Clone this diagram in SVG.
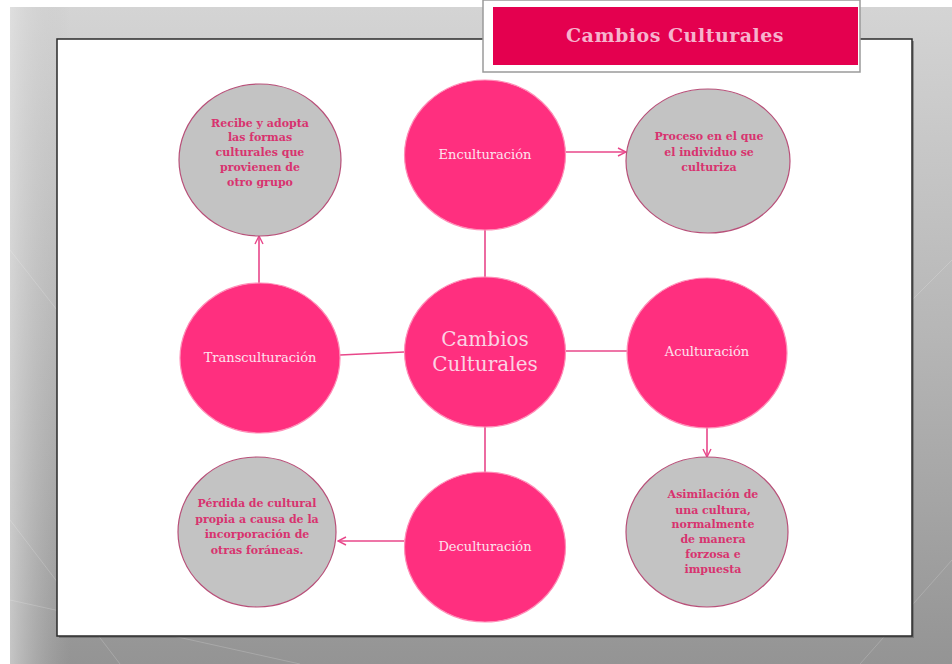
<svg xmlns="http://www.w3.org/2000/svg" width="952" height="664" viewBox="0 0 952 664">
<defs>
<linearGradient id="bg" x1="0" y1="0" x2="0" y2="1">
<stop offset="0" stop-color="#d4d4d4"/>
<stop offset="0.5" stop-color="#b6b6b6"/>
<stop offset="1" stop-color="#949494"/>
</linearGradient>
<linearGradient id="side" x1="0" y1="0" x2="1" y2="0">
<stop offset="0" stop-color="#e6e6e6"/>
<stop offset="1" stop-color="#b8b8b8" stop-opacity="0"/>
</linearGradient>
<marker id="arr" viewBox="0 0 10 10" refX="9" refY="5" markerWidth="10" markerHeight="10" markerUnits="userSpaceOnUse" orient="auto">
<path d="M1,1 L9,5 L1,9" fill="none" stroke="#e8478a" stroke-width="1.4"/>
</marker>
</defs>
<style>
.pink{fill:#ff2f7f;stroke:#ff8fb8;stroke-width:1.2}
.grey{fill:#c3c3c3;stroke:#b85079;stroke-width:1.2}
.lbl{font-family:"DejaVu Serif","Liberation Serif",serif;font-size:13px;fill:#fde3ee;text-anchor:middle}
.gt{font-family:"DejaVu Serif","Liberation Serif",serif;font-size:11px;font-weight:bold;fill:#d8336f;text-anchor:middle}
.ct{font-family:"DejaVu Serif","Liberation Serif",serif;font-size:20px;fill:#fbd3e3;text-anchor:middle}
.conn line{stroke:#e8478a;stroke-width:1.6;fill:none}
</style>
<rect x="0" y="0" width="952" height="664" fill="#ffffff"/>
<rect x="10" y="7" width="942" height="657" fill="url(#bg)"/>
<rect x="10" y="7" width="60" height="657" fill="url(#side)" opacity="0.6"/>
<g stroke="#ffffff" stroke-opacity="0.18" stroke-width="1" fill="none">
<line x1="10" y1="520" x2="120" y2="664"/>
<line x1="10" y1="600" x2="300" y2="664"/>
<line x1="860" y1="664" x2="952" y2="560"/>
<line x1="912" y1="300" x2="952" y2="260"/>
<line x1="10" y1="250" x2="57" y2="310"/>
</g>
<rect x="59" y="41" width="855" height="597" fill="#555" opacity="0.5"/>
<rect x="57" y="39" width="855" height="597" fill="#ffffff" stroke="#2a2a2a" stroke-width="1.5"/>
<g id="title">
<rect x="483" y="0" width="377" height="72" fill="#ffffff" stroke="#9a9a9a" stroke-width="1.5"/>
<rect x="493" y="7" width="365" height="58" fill="#e4004f"/>
<text x="675" y="42" font-family="'DejaVu Serif','Liberation Serif',serif" font-size="19" font-weight="bold" letter-spacing="0.5" fill="#f6b3cd" text-anchor="middle">Cambios Culturales</text>
</g>
<g id="connectors" class="conn">
<line x1="485" y1="230" x2="485" y2="277"/>
<line x1="565" y1="351" x2="627" y2="351"/>
<line x1="404" y1="352" x2="340" y2="355"/>
<line x1="485" y1="426" x2="485" y2="473"/>
<line x1="565" y1="152" x2="626" y2="152" marker-end="url(#arr)"/>
<line x1="259" y1="284" x2="259" y2="236" marker-end="url(#arr)"/>
<line x1="707" y1="428" x2="707" y2="457" marker-end="url(#arr)"/>
<line x1="404" y1="541" x2="338" y2="541" marker-end="url(#arr)"/>
</g>
<g id="center">
<ellipse class="pink" cx="485" cy="352" rx="80.5" ry="75"/>
<text class="ct" x="485" y="346">Cambios</text>
<text class="ct" x="485" y="371">Culturales</text>
</g>
<g id="enculturacion">
<ellipse class="pink" cx="485" cy="155" rx="80.5" ry="75"/>
<text class="lbl" x="485" y="159">Enculturación</text>
</g>
<g id="aculturacion">
<ellipse class="pink" cx="707" cy="353" rx="80" ry="75"/>
<text class="lbl" x="707" y="356">Aculturación</text>
</g>
<g id="transculturacion">
<ellipse class="pink" cx="260" cy="358" rx="80" ry="75"/>
<text class="lbl" x="260" y="362">Transculturación</text>
</g>
<g id="deculturacion">
<ellipse class="pink" cx="485" cy="547" rx="80.5" ry="75"/>
<text class="lbl" x="485" y="551">Deculturación</text>
</g>
<g id="recibe">
<ellipse class="grey" cx="260" cy="160" rx="81" ry="76"/>
<text class="gt" x="260" y="127">Recibe y adopta</text>
<text class="gt" x="260" y="141">las formas</text>
<text class="gt" x="260" y="156">culturales que</text>
<text class="gt" x="260" y="171">provienen de</text>
<text class="gt" x="260" y="186">otro grupo</text>
</g>
<g id="proceso">
<ellipse class="grey" cx="708" cy="161" rx="82" ry="72"/>
<text class="gt" x="709" y="140">Proceso en el que</text>
<text class="gt" x="709" y="156">el individuo se</text>
<text class="gt" x="709" y="171">culturiza</text>
</g>
<g id="perdida">
<ellipse class="grey" cx="257" cy="532" rx="79" ry="75"/>
<text class="gt" x="257" y="507">Pérdida de cultural</text>
<text class="gt" x="257" y="523">propia a causa de la</text>
<text class="gt" x="257" y="538">incorporación de</text>
<text class="gt" x="257" y="554">otras foráneas.</text>
</g>
<g id="asimilacion">
<ellipse class="grey" cx="707" cy="532" rx="81" ry="75"/>
<text class="gt" x="713" y="498">Asimilación de</text>
<text class="gt" x="713" y="514">una cultura,</text>
<text class="gt" x="713" y="528">normalmente</text>
<text class="gt" x="713" y="543">de manera</text>
<text class="gt" x="713" y="558">forzosa e</text>
<text class="gt" x="713" y="573">impuesta</text>
</g>
</svg>
